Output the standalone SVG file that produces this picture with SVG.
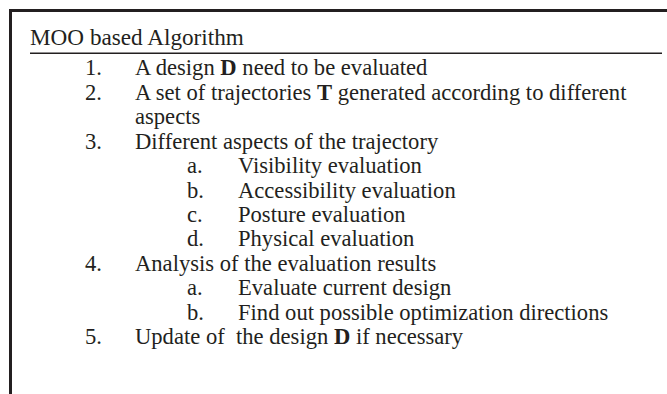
<svg xmlns="http://www.w3.org/2000/svg" width="667" height="394" viewBox="0 0 667 394">
<style>
  .t { font-family: "Liberation Serif", "Times New Roman", serif; font-size: 22.6px; fill: #231f20; }
  .h { font-size: 23.2px; }
  .b { font-weight: bold; }
  .frame { stroke: #231f20; stroke-width: 3; fill: none; }
  .rule { stroke: #231f20; stroke-width: 1.5; fill: none; }
</style>
<rect width="667" height="394" fill="#ffffff"/>
<g id="frame">
  <line class="frame" x1="9" y1="10.5" x2="667" y2="10.5"/>
  <line class="frame" x1="10.5" y1="9" x2="10.5" y2="394"/>
  <line class="rule" x1="30" y1="53.3" x2="662" y2="53.3"/>
</g>
<g id="title">
  <text class="t h" x="30" y="45">MOO based Algorithm</text>
</g>
<g id="items">
  <text class="t" x="85" y="75">1.</text>
  <text class="t" x="135" y="75">A design <tspan class="b">D</tspan> need to be evaluated</text>
  <text class="t" x="85" y="99.5">2.</text>
  <text class="t" x="135" y="99.5">A set of trajectories <tspan class="b">T</tspan> generated according to different</text>
  <text class="t" x="135" y="124">aspects</text>
  <text class="t" x="85" y="148.5">3.</text>
  <text class="t" x="135" y="148.5">Different aspects of the trajectory</text>
  <text class="t" x="187" y="173">a.</text>
  <text class="t" x="238" y="173">Visibility evaluation</text>
  <text class="t" x="187" y="197.5">b.</text>
  <text class="t" x="238" y="197.5">Accessibility evaluation</text>
  <text class="t" x="187" y="222">c.</text>
  <text class="t" x="238" y="222">Posture evaluation</text>
  <text class="t" x="187" y="246">d.</text>
  <text class="t" x="238" y="246">Physical evaluation</text>
  <text class="t" x="85" y="270.5">4.</text>
  <text class="t" x="135" y="270.5">Analysis of the evaluation results</text>
  <text class="t" x="187" y="295">a.</text>
  <text class="t" x="238" y="295">Evaluate current design</text>
  <text class="t" x="187" y="319.5">b.</text>
  <text class="t" x="238" y="319.5">Find out possible optimization directions</text>
  <text class="t" x="85" y="344">5.</text>
  <text class="t" x="135" y="344" style="white-space:pre">Update of  the design <tspan class="b">D</tspan> if necessary</text>
</g>
</svg>
